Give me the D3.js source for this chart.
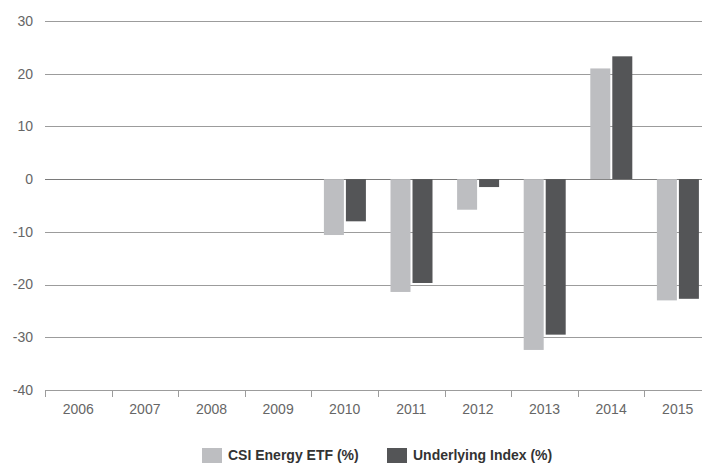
<!DOCTYPE html>
<html>
<head>
<meta charset="utf-8">
<script src="https://cdn.jsdelivr.net/npm/d3@7"></script>
<style>
  body { margin: 0; background: #fff; }
  svg { display: block; font-family: "Liberation Sans", Arial, sans-serif; }
</style>
</head>
<body>
<div id="wrapper"></div>
<script>
const years = ["2006","2007","2008","2009","2010","2011","2012","2013","2014","2015"]
const etfValues = [null,null,null,null,-10.6,-21.4,-5.8,-32.4,21.0,-23.0]
const indexValues = [null,null,null,null,-8.0,-19.7,-1.5,-29.5,23.3,-22.7]
const seriesNames = ["CSI Energy ETF (%)","Underlying Index (%)"]
const seriesColors = ["#bdbec1","#545557"]
const yTicks = [-40,-30,-20,-10,0,10,20,30]

let dimensions = {
  width: 702,
  height: 463,
  margin: { top: 21, left: 45 },
}
dimensions.plotRight = 711
dimensions.plotBottom = 390

const data = years.map((y, i) => ({ year: y, values: [etfValues[i], indexValues[i]] }))

const xScale = d3.scaleBand()
  .domain(years)
  .range([dimensions.margin.left, dimensions.plotRight])

const xInner = d3.scaleBand()
  .domain([0, 1])
  .range([12.5, 54.5])
  .paddingInner(2 / 22)

const yScale = d3.scaleLinear()
  .domain([-40, 30])
  .range([dimensions.plotBottom, dimensions.margin.top])

const svg = d3.select("#wrapper")
  .append("svg")
  .attr("width", dimensions.width)
  .attr("height", dimensions.height)

// gridlines
svg.append("g")
  .selectAll("line")
  .data(yTicks.filter(t => t > -40))
  .join("line")
  .attr("x1", dimensions.margin.left)
  .attr("x2", dimensions.plotRight)
  .attr("y1", d => Math.round(yScale(d)) + 0.5)
  .attr("y2", d => Math.round(yScale(d)) + 0.5)
  .attr("stroke", d => d === 0 ? "#7a7a7a" : "#9c9c9c")
  .attr("stroke-width", 1)

// y labels
svg.append("g")
  .selectAll("text")
  .data(yTicks)
  .join("text")
  .attr("x", 33)
  .attr("y", d => yScale(d))
  .attr("dy", "0.35em")
  .attr("text-anchor", "end")
  .attr("fill", "#666")
  .style("font-size", "14px")
  .text(d => d)

// bars
const groups = svg.append("g")
  .selectAll("g")
  .data(data)
  .join("g")
  .attr("transform", d => `translate(${xScale(d.year)},0)`)

groups.selectAll("rect")
  .data(d => d.values.map((v, i) => ({ v, i })).filter(e => e.v !== null))
  .join("rect")
  .attr("x", e => xInner(e.i))
  .attr("width", xInner.bandwidth())
  .attr("y", e => yScale(Math.max(0, e.v)))
  .attr("height", e => Math.abs(yScale(e.v) - yScale(0)))
  .attr("fill", e => seriesColors[e.i])

// x axis
const xAxisGenerator = d3.axisBottom(xScale)
  .tickSize(0)
  .tickPadding(14)

const xAxis = svg.append("g")
  .attr("transform", `translate(0,${dimensions.plotBottom})`)
  .call(xAxisGenerator)
xAxis.select(".domain").attr("stroke", "#9c9c9c")
xAxis.selectAll("text").attr("fill", "#666").style("font-size", "14px").attr("font-family", null)

// band boundary ticks
svg.append("g")
  .selectAll("line")
  .data(years)
  .join("line")
  .attr("x1", d => Math.round(xScale(d)) + 0.5)
  .attr("x2", d => Math.round(xScale(d)) + 0.5)
  .attr("y1", dimensions.plotBottom)
  .attr("y2", dimensions.plotBottom + 7)
  .attr("stroke", "#9c9c9c")

// legend
const legendX = [202, 387]
const legend = svg.append("g")
  .selectAll("g")
  .data(seriesNames)
  .join("g")
  .attr("transform", (d, i) => `translate(${legendX[i]},448)`)

legend.append("rect")
  .attr("width", 20)
  .attr("height", 15)
  .attr("fill", (d, i) => seriesColors[i])

legend.append("text")
  .attr("x", 26)
  .attr("y", 12)
  .attr("fill", "#333")
  .style("font-size", "14px")
  .style("font-weight", "bold")
  .text(d => d)
</script>
</body>
</html>
